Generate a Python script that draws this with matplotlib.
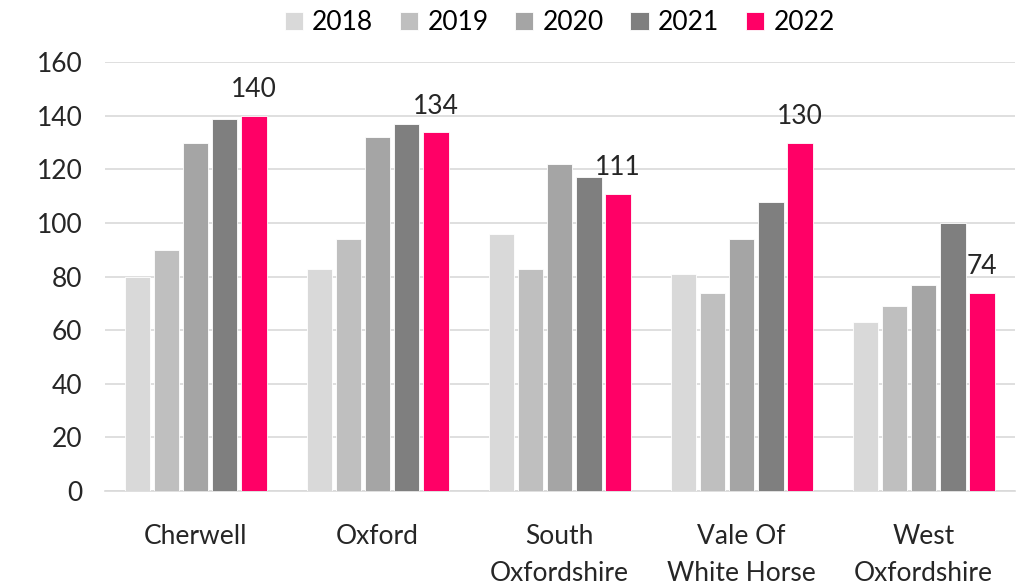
import numpy as np
import matplotlib
matplotlib.use("Agg")
import matplotlib.pyplot as plt

# data
districts = ['Cherwell', 'Oxford', 'South\nOxfordshire', 'Vale Of\nWhite Horse', 'West\nOxfordshire']
years = ['2018', '2019', '2020', '2021', '2022']
v2018 = [80, 83, 96, 81, 63]
v2019 = [90, 94, 83, 74, 69]
v2020 = [130, 132, 122, 94, 77]
v2021 = [139, 137, 117, 108, 100]
v2022 = [140, 134, 111, 130, 74]
colours = ['#d9d9d9', '#bfbfbf', '#a5a5a5', '#7f7f7f', '#ff0066']

plt.rcParams['font.family'] = ['Lato', 'DejaVu Sans']

fig = plt.figure(figsize=(10.25, 5.87), dpi=100)
ax = fig.add_axes([0.102, 0.1635, 0.888, 0.7305])

x = np.arange(len(districts))
slot = 0.16
width = 0.14
series = [v2018, v2019, v2020, v2021, v2022]
for i, (vals, col, yr) in enumerate(zip(series, colours, years)):
    bars = ax.bar(x + (i - 2) * slot, vals, width, color=col, label=yr,
                  edgecolor='white', linewidth=0.6, zorder=3)
    if yr == '2022':
        for b, v in zip(bars, vals):
            ax.text(b.get_x() + b.get_width() / 2, v + 5, str(v),
                    ha='center', va='bottom', fontsize=19, color='#262626')

ax.set_ylim(0, 160)
ax.set_yticks(range(0, 161, 20))
ax.set_xlim(-0.5, len(districts) - 0.5)
ax.set_xticks(x)
ax.set_xticklabels(districts, fontsize=19, color='#262626', linespacing=1.6)
ax.tick_params(axis='y', labelsize=19, colors='#262626', length=0, pad=16)
ax.tick_params(axis='x', length=0, pad=24)
ax.grid(axis='y', color='#d9d9d9', linewidth=1.2, zorder=0)
for s in ['top', 'right', 'left']:
    ax.spines[s].set_visible(False)
ax.spines['bottom'].set_color('#d9d9d9')
ax.spines['bottom'].set_linewidth(1.2)

ax.legend(loc='lower center', bbox_to_anchor=(0.5, 1.02), ncol=5, frameon=False,
          fontsize=19, handlelength=0.7, handleheight=0.7, handletextpad=0.35,
          columnspacing=1.0, borderaxespad=0.3)

fig.savefig('out.png', dpi=100)
